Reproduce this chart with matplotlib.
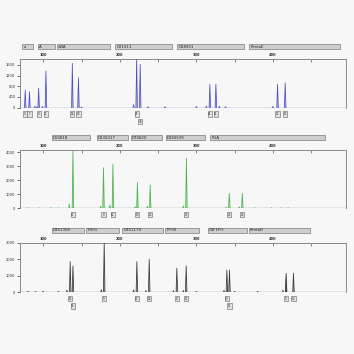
import matplotlib
matplotlib.use('Agg')
import matplotlib.pyplot as plt
from matplotlib.patches import Rectangle
import matplotlib.transforms as mtransforms

# ---------------- data ----------------
# Panel 1 (blue dye)
p1_loci = ["a", "A", "vWA", "D21S11", "D18S51", "PentaE"]
p1_locus_start = [72.6, 93.5, 118, 194, 275, 369]
p1_locus_end = [87, 115.7, 187.5, 268, 362, 488]
p1_peak_bp = [76.5, 82, 94, 103.5, 138, 146, 222, 226.6, 317.6, 325.5, 406, 416]
p1_peak_rfu = [660, 600, 725, 1370, 1660, 1120, 1850, 1620, 875, 875, 875, 935]
p1_alleles = ["X", "Y", "9", "11", "16", "18", "29", "30", "14", "15", "12", "13"]
p1_second_row = [7]
p1_yticks = [0, 400, 800, 1200, 1600]
p1_ymax = 1820
p1_noise_bp = [89, 92, 99, 150, 218, 237, 259, 300, 313, 330, 338, 400]
p1_noise_rfu = [60, 40, 50, 30, 120, 40, 40, 50, 70, 60, 40, 50]

# Panel 2 (green dye)
p2_loci = ["D5S818", "D13S317", "D7S820", "D16S539", "FGA"]
p2_locus_start = [111, 170, 214.5, 260, 318]
p2_locus_end = [161, 211, 255.7, 311.5, 468]
p2_peak_bp = [138.8, 178.7, 191, 223, 239.7, 287, 343, 360]
p2_peak_rfu = [4090, 2900, 3140, 1860, 1660, 3570, 1070, 1070]
p2_alleles = ["11", "8", "12", "10", "12", "11", "21", "23"]
p2_second_row = []
p2_yticks = [0, 1000, 2000, 3000, 4000]
p2_ymax = 4160
p2_noise_bp = [80, 95, 110, 120, 134, 175, 187, 220, 236, 283, 339, 356, 376, 398, 410, 420]
p2_noise_rfu = [40, 30, 40, 30, 320, 150, 230, 120, 150, 180, 90, 100, 40, 40, 30, 40]

# Panel 3 (black dye)
p3_loci = ["D3S1358", "TH01", "D8S1179", "TPOX", "CSF1PO", "PentaD"]
p3_locus_start = [111, 156, 203.5, 259, 315, 368.5]
p3_locus_end = [152.6, 199, 256.7, 303.7, 366, 448.6]
p3_peak_bp = [135.2, 138.8, 179.6, 222.3, 238.4, 274.5, 286.7, 339.8, 343.2, 417.2, 426.8]
p3_peak_rfu = [1850, 1590, 3050, 1850, 2000, 1450, 1590, 1340, 1340, 1140, 1140]
p3_alleles = ["15", "16", "9", "13", "14", "8", "11", "10", "11", "9", "12"]
p3_second_row = [1, 8]
p3_yticks = [0, 1000, 2000, 3000]
p3_ymax = 3000
p3_noise_bp = [80, 90, 100, 120, 131, 176, 218, 234, 270, 283, 300, 336, 350, 380, 413]
p3_noise_rfu = [40, 30, 40, 30, 120, 150, 130, 100, 80, 100, 40, 100, 40, 40, 120]

xmin, xmax = 69, 495
top_ticks = [100, 200, 300, 400]

# ---------------- layout ----------------
W = H = 354
BG = '#f7f7f7'
fig = plt.figure(figsize=(3.54, 3.54), dpi=100, facecolor=BG)


def px_axes(left, top, right, bottom):
    return fig.add_axes([left / W, 1 - bottom / H, (right - left) / W, (bottom - top) / H])


def draw_panel(box, loci, lstart, lend, bars_y, bp, rfu, alleles, second, yticks, ymax,
               nbp, nrfu, line_c, fill_c, base_c, label_y, dark_idx=None):
    ax = px_axes(*box)
    ax.set_facecolor(BG)
    ax.set_xlim(xmin, xmax)
    ax.set_ylim(0, ymax)
    hw = 1.0
    for i, (p, h) in enumerate(zip(bp, rfu)):
        fc = fill_c
        if dark_idx is not None and i == dark_idx:
            fc = '#222222'
        ax.fill([p - hw, p, p + hw], [0, h, 0], color=fc, lw=0, zorder=2)
        ax.plot([p - hw, p, p + hw], [0, h, 0], color=line_c, lw=0.55, zorder=3)
    for p, h in zip(nbp, nrfu):
        ax.plot([p - 0.8, p, p + 0.8], [0, h, 0], color=line_c, lw=0.5, zorder=3)
    ax.axhline(0, color=base_c, lw=0.9, zorder=4)
    for s in ['top', 'left', 'right']:
        ax.spines[s].set_color('#8a8a8a')
        ax.spines[s].set_linewidth(0.7)
    ax.spines['bottom'].set_visible(False)
    ax.set_yticks(yticks)
    ax.set_yticklabels([str(v) for v in yticks])
    ax.tick_params(axis='y', length=2, width=0.5, pad=1, labelsize=2.6, colors='#333333')
    ax.xaxis.set_ticks_position('top')
    ax.set_xticks(top_ticks)
    ax.set_xticks([150, 250, 350, 450], minor=True)
    ax.set_xticklabels([str(v) for v in top_ticks], fontsize=2.6, fontweight='bold', color='#333333')
    ax.tick_params(axis='x', which='both', direction='in', length=2, width=0.5, pad=1.5,
                   colors='#555555')
    ax.tick_params(axis='x', labelcolor='#333333')

    trans = mtransforms.blended_transform_factory(ax.transData, fig.transFigure)
    # locus bars
    bh = 5 / H
    for name, a, b in zip(loci, lstart, lend):
        y0 = 1 - (bars_y + 2.5) / H
        ax.add_patch(Rectangle((a, y0), b - a, bh, transform=trans, clip_on=False,
                               facecolor='#cfcfcf', edgecolor='#7a7a7a', lw=0.5))
        ax.text(a + 1.5, y0 + bh / 2, name, transform=trans, fontsize=2.8,
                va='center', ha='left', color='#222222', clip_on=False)
    # allele label boxes
    for i, (p, lab) in enumerate(zip(bp, alleles)):
        yl = label_y + (7.7 if i in second else 0)
        yc = 1 - yl / H
        bw = 5.4
        ax.add_patch(Rectangle((p - bw / 2, yc - 2.8 / H), bw, 5.6 / H, transform=trans,
                               clip_on=False, facecolor='#e2e2e2', edgecolor='#707070', lw=0.45))
        ax.text(p, yc, lab, transform=trans, fontsize=2.0, ha='center', va='center',
                color='#333333', clip_on=False)
    return ax


draw_panel((19.5, 59, 345.7, 107.7), p1_loci, p1_locus_start, p1_locus_end, 46.5,
           p1_peak_bp, p1_peak_rfu, p1_alleles, p1_second_row, p1_yticks, p1_ymax,
           p1_noise_bp, p1_noise_rfu, '#4f4fc0', '#b9b9ec', '#4a4a8a', 114)

draw_panel((19.5, 150, 345.7, 208.3), p2_loci, p2_locus_start, p2_locus_end, 137.7,
           p2_peak_bp, p2_peak_rfu, p2_alleles, p2_second_row, p2_yticks, p2_ymax,
           p2_noise_bp, p2_noise_rfu, '#4db34d', '#b5e3b5', '#4a8a4a', 214.5)

draw_panel((19.5, 242.7, 345.7, 292), p3_loci, p3_locus_start, p3_locus_end, 230,
           p3_peak_bp, p3_peak_rfu, p3_alleles, p3_second_row, p3_yticks, p3_ymax,
           p3_noise_bp, p3_noise_rfu, '#3a3a3a', '#b0b0b0', '#555555', 298.5, dark_idx=9)

fig.savefig('out.png', dpi=100, facecolor=BG)
